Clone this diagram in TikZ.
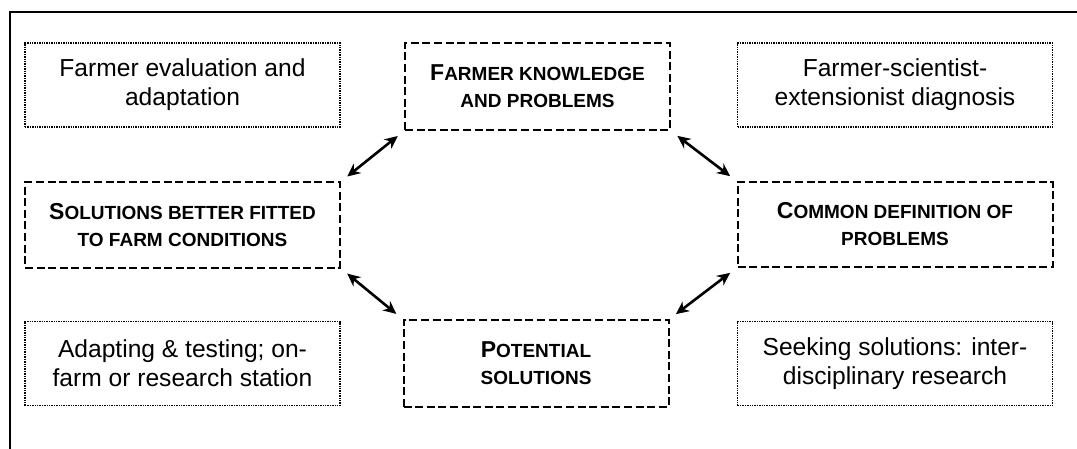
\documentclass[tikz,border=0pt]{standalone}
\usepackage{fontspec}
\setmainfont{Liberation Sans}
\usetikzlibrary{arrows.meta}
\newcommand{\capinit}[1]{{\fontsize{11.5}{13.5}\selectfont #1}}
\tikzset{
  plainbox/.style={
    rectangle, align=center,
    minimum width=157.5pt, minimum height=42pt,
    line width=0.6pt, dash pattern=on 0.7pt off 0.5pt,
    font=\fontsize{12.3}{14.5}\selectfont
  },
  capbox/.style={
    rectangle, align=center,
    minimum width=157.5pt, minimum height=42.5pt,
    line width=1pt, dash pattern=on 4pt off 1.8pt,
    font=\bfseries\fontsize{9.5}{13.5}\selectfont
  },
  link/.style={
    {Stealth[length=6.5pt,width=6pt]}-{Stealth[length=6.5pt,width=6pt]},
    line width=1.3pt, shorten <=4pt, shorten >=4pt
  }
}
\begin{document}
\begin{tikzpicture}[x=0.5pt, y=-0.5pt]
  \useasboundingbox (0,0) rectangle (1077,449);
  % frame
  \draw[line width=1pt] (10,449) -- (10,12) -- (1077,12);
  % outer ring
  \node[plainbox, draw] (eval) at (182.5,85) {Farmer evaluation and\\adaptation};
  \node[plainbox, draw] (diag) at (895,85) {Farmer-scientist-\\extensionist diagnosis};
  \node[plainbox, draw] (adapt) at (182.5,363.5) {Adapting \& testing; on-\\farm or research station};
  \node[plainbox, draw] (seek) at (895,363.5) {Seeking solutions: inter-\\disciplinary research};
  % inner ring
  \node[capbox, draw, minimum width=132.5pt, minimum height=43.5pt] (know) at (537.5,86.5) {\capinit{F}ARMER KNOWLEDGE\\AND PROBLEMS};
  \node[capbox, draw] (fit) at (182.5,225) {\capinit{S}OLUTIONS BETTER FITTED\\TO FARM CONDITIONS};
  \node[capbox, draw] (define) at (895,224.5) {\capinit{C}OMMON DEFINITION OF\\PROBLEMS};
  \node[capbox, draw, minimum width=132.5pt, minimum height=43.5pt] (potential) at (536,363.5) {\capinit{P}OTENTIAL\\SOLUTIONS};
  % links
  \draw[link] (fit.north east) -- (know.south west);
  \draw[link] (know.south east) -- (define.north west);
  \draw[link] (fit.south east) -- (potential.north west);
  \draw[link] (potential.north east) -- (define.south west);
\end{tikzpicture}
\end{document}
